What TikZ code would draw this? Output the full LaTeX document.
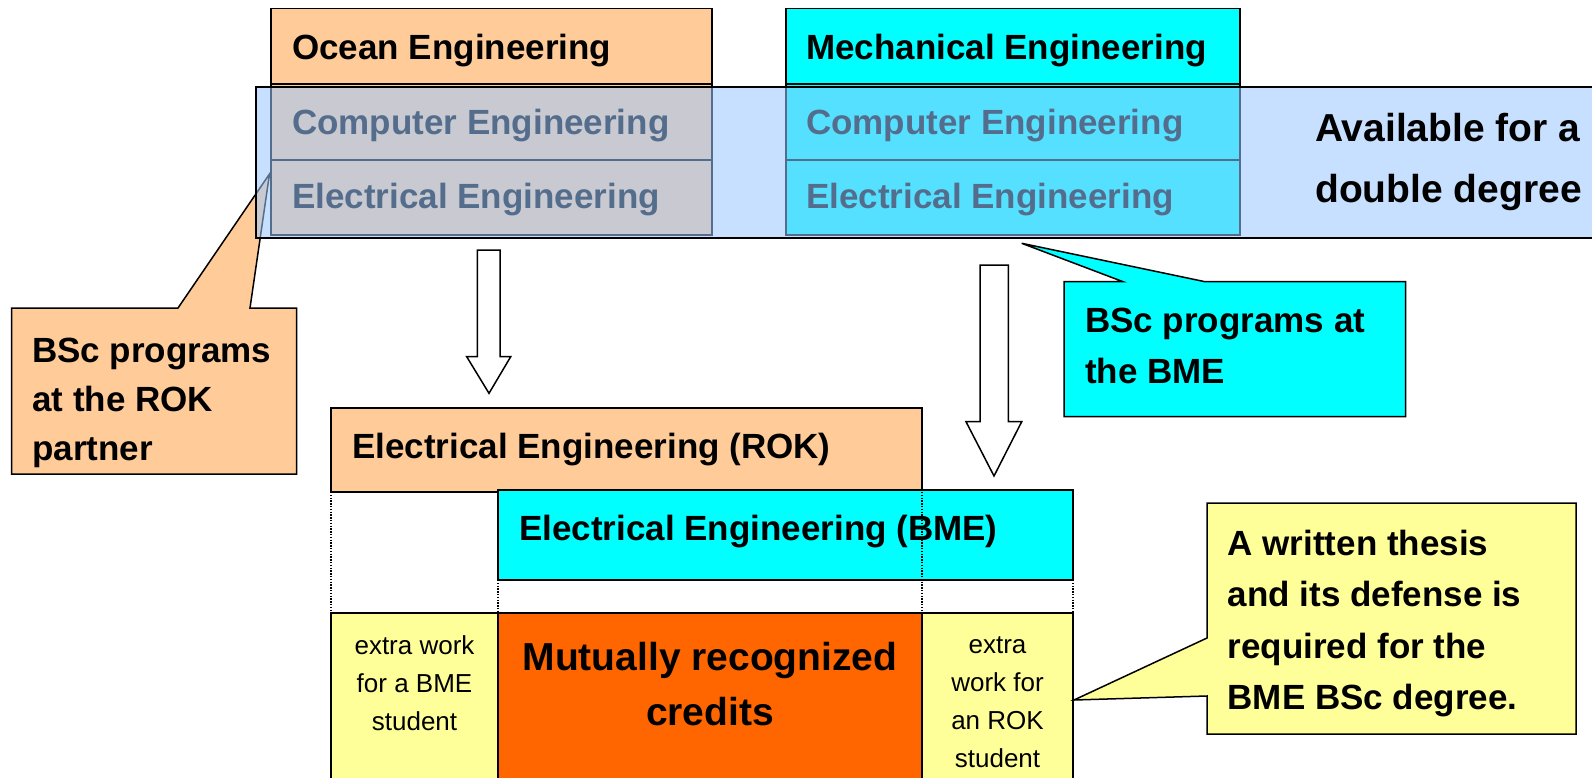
\documentclass[tikz,border=0pt]{standalone}
\usepackage{fontspec}
\setmainfont{Liberation Sans}
\definecolor{peach}{RGB}{255,204,153}
\definecolor{cyanbox}{RGB}{0,255,255}
\definecolor{lyellow}{RGB}{255,255,153}
\definecolor{orng}{RGB}{255,102,0}
\definecolor{bandblue}{RGB}{155,200,255}
\begin{document}
\begin{tikzpicture}[x=1pt,y=-1pt,
  box/.style={draw=black, line width=1.5pt, inner sep=0pt, outer sep=0pt, anchor=north west},
  tb/.style={font=\fontsize{35}{50}\selectfont\bfseries, inner sep=0pt, align=left},
  tbig/.style={font=\fontsize{39}{55}\selectfont\bfseries, inner sep=0pt, align=center},
  tsm/.style={font=\fontsize{26}{37.7}\selectfont, inner sep=0pt, align=center},
  callout/.style={draw=black, line width=1.5pt, line join=miter},
  blockarrow/.style={draw=black, line width=1.5pt, fill=white, line join=miter},
  dots/.style={draw=black, line width=1.2pt, dash pattern=on 1.4pt off 1.4pt},
]
\useasboundingbox (0,0) rectangle (1592,778);
\clip (0,0) rectangle (1592,778);
\fill[white] (0,0) rectangle (1592,778);

% left callout (under the band)
\coordinate (ltip) at (269.5,174);
\path[callout, fill=peach] (11.7,308) -- (178,308) -- (ltip) -- (250,308) -- (296.7,308)
  -- (296.7,474) -- (11.7,474) -- cycle;
\node[tb, anchor=base west] (lcalltext) at (32,460) {BSc programs\\[-1pt]at the ROK\\[-1pt]partner};

% top boxes
\node[box, fill=peach, minimum width=441pt, minimum height=75.5pt] (ocean) at (271,8.5) {};
\node[box, fill=peach, minimum width=441pt, minimum height=76pt] (lcomp) at (271,84) {};
\node[box, fill=peach, minimum width=441pt, minimum height=75pt] (lelec) at (271,160) {};
\node[box, fill=cyanbox, minimum width=454pt, minimum height=75.5pt] (mech) at (786,8.5) {};
\node[box, fill=cyanbox, minimum width=454pt, minimum height=76pt] (rcomp) at (786,84) {};
\node[box, fill=cyanbox, minimum width=454pt, minimum height=75pt] (relec) at (786,160) {};

\node[tb, anchor=base west] (oceant) at (292,60) {Ocean Engineering};
\node[tb, anchor=base west] (lcompt) at (292,135) {Computer Engineering};
\node[tb, anchor=base west] (lelect) at (292,208) {Electrical Engineering};
\node[tb, anchor=base west] (mecht) at (806,60) {Mechanical Engineering};
\node[tb, anchor=base west] (rcompt) at (806,135) {Computer Engineering};
\node[tb, anchor=base west] (relect) at (806,208) {Electrical Engineering};

% translucent band
\node[anchor=north west, inner sep=0pt, outer sep=0pt, draw=black, line width=2pt,
  fill=bandblue, fill opacity=0.55, draw opacity=1,
  minimum width=1360pt, minimum height=150.5pt] (band) at (256,87) {};
\node[tbig, align=left, anchor=base west] (avail) at (1315,203) {Available for a\\[6pt]double degree};

% block arrows
\path[blockarrow] (477.3,250) -- (500,250) -- (500,356.7) -- (510.7,356.7) -- (489,393.3)
  -- (466.7,356.7) -- (477.3,356.7) -- cycle;
\path[blockarrow] (980,265) -- (1008.3,265) -- (1008.3,421.7) -- (1021.7,421.7) -- (994,476)
  -- (966,421.7) -- (980,421.7) -- cycle;

% BME callout
\coordinate (btip) at (1021.7,243.3);
\path[callout, fill=cyanbox] (1064,281.7) -- (1123,281.7) -- (btip) -- (1205,281.7) -- (1405.7,281.7)
  -- (1405.7,416.7) -- (1064,416.7) -- cycle;
\node[tb, anchor=base west] (bcalltext) at (1085,383) {BSc programs at\\[1pt]the BME};

% bottom structure
\node[box, fill=peach, minimum width=591pt, minimum height=84pt] (rok) at (331,408) {};
\node[box, fill=cyanbox, minimum width=575pt, minimum height=90pt] (bme) at (498,490) {};
\node[tb, anchor=base west] (rokt) at (352,458) {Electrical Engineering (ROK)};
\node[box, fill=lyellow, minimum width=167pt, minimum height=180pt] (lyel) at (331,613) {};
\node[box, fill=orng, minimum width=424pt, minimum height=180pt] (orngbox) at (498,613) {};
\node[box, fill=lyellow, minimum width=151pt, minimum height=180pt] (ryel) at (922,613) {};

\draw[dots] (rok.south west) -- (lyel.north west);
\draw[dots] (bme.south west) -- (orngbox.north west);
\draw[dots] (rok.south east) -- (ryel.north west);
\draw[dots] (bme.south east) -- (ryel.north east);
\node[tb, anchor=base west] (bmet) at (519,540) {Electrical Engineering (BME)};

\node[tsm, anchor=base] (lyelt) at (414.5,730) {extra work\\for a BME\\student};
\node[tbig, anchor=base] (mutt) at (710,725) {Mutually recognized\\credits};
\node[tsm, anchor=base] (ryelt) at (997.5,767) {extra\\work for\\an ROK\\student};

% yellow callout
\coordinate (ytip) at (1074,700);
\path[callout, fill=lyellow] (1207,503) -- (1576,503) -- (1576,734) -- (1207,734) -- (1207,696)
  -- (ytip) -- (1207,638) -- cycle;
\node[tb, anchor=base west] (ycalltext) at (1227.5,709.5) {A written thesis\\[1.5pt]and its defense is\\[1.5pt]required for the\\[1.5pt]BME BSc degree.};
\end{tikzpicture}
\end{document}
